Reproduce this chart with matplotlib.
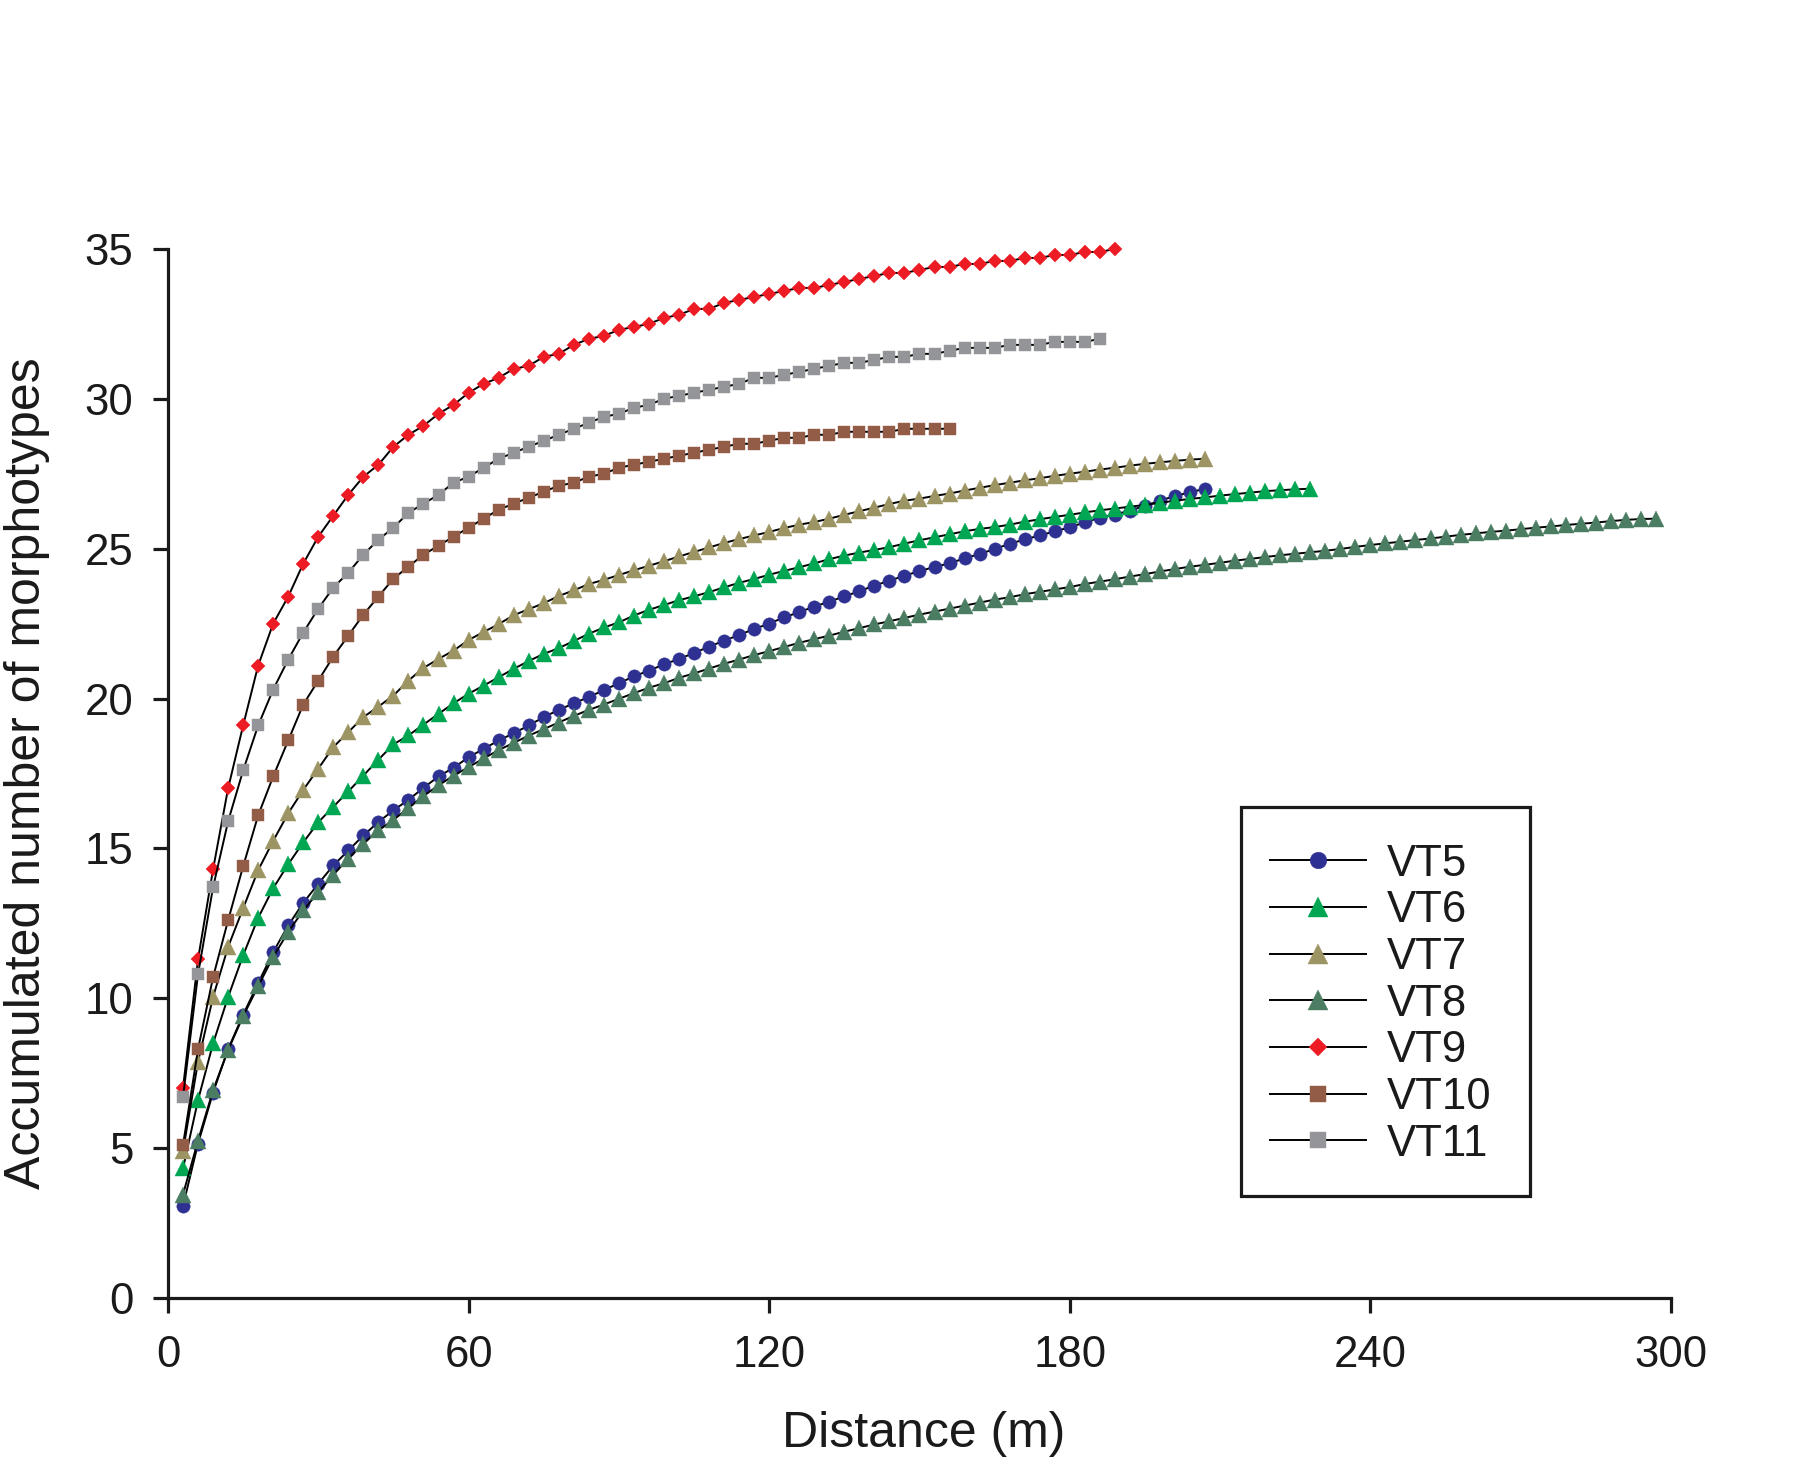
import numpy as np
import matplotlib
matplotlib.use("Agg")
import matplotlib.pyplot as plt
from matplotlib.patches import Rectangle

plt.rcParams['font.family'] = ['Liberation Sans', 'DejaVu Sans']

# ---- data (accumulated morphotypes, one value every 3 m starting at 3 m) ----
step_m = 3

VT5 = [3.07, 5.15, 6.85, 8.3, 9.45, 10.5, 11.54, 12.43, 13.18, 13.82,
       14.43, 14.93, 15.43, 15.88, 16.27, 16.62, 17.02, 17.4, 17.69, 18.04,
       18.32, 18.6, 18.84, 19.1, 19.38, 19.62, 19.84, 20.05, 20.28, 20.51,
       20.74, 20.93, 21.14, 21.32, 21.52, 21.73, 21.93, 22.12, 22.32, 22.5,
       22.71, 22.88, 23.07, 23.23, 23.41, 23.58, 23.77, 23.93, 24.1, 24.25,
       24.39, 24.51, 24.68, 24.82, 24.99, 25.16, 25.31, 25.44, 25.58, 25.71,
       25.88, 26.03, 26.14, 26.27, 26.43, 26.6, 26.76, 26.88, 27.0]

VT6 = [4.32, 6.6, 8.49, 10.04, 11.43, 12.68, 13.67, 14.47, 15.2, 15.87,
       16.39, 16.9, 17.43, 17.96, 18.47, 18.77, 19.13, 19.49, 19.84, 20.16,
       20.43, 20.71, 20.99, 21.25, 21.49, 21.68, 21.92, 22.16, 22.37, 22.54,
       22.77, 22.96, 23.12, 23.28, 23.41, 23.55, 23.71, 23.86, 23.99, 24.13,
       24.26, 24.38, 24.51, 24.65, 24.77, 24.87, 24.96, 25.05, 25.17, 25.28,
       25.38, 25.48, 25.58, 25.66, 25.72, 25.8, 25.9, 25.98, 26.06, 26.13,
       26.21, 26.28, 26.34, 26.4, 26.46, 26.53, 26.6, 26.66, 26.71, 26.77,
       26.82, 26.87, 26.92, 26.95, 26.98, 27.0]

VT7 = [4.9, 7.88, 10.04, 11.71, 13.0, 14.27, 15.25, 16.17, 16.95, 17.66,
       18.38, 18.88, 19.38, 19.73, 20.1, 20.6, 21.02, 21.32, 21.6, 21.95,
       22.22, 22.48, 22.78, 22.98, 23.18, 23.42, 23.61, 23.82, 23.96, 24.12,
       24.28, 24.43, 24.58, 24.74, 24.89, 25.04, 25.19, 25.32, 25.44, 25.56,
       25.69, 25.8, 25.89, 26.0, 26.13, 26.25, 26.37, 26.49, 26.6, 26.67,
       26.76, 26.84, 26.94, 27.03, 27.12, 27.2, 27.28, 27.35, 27.43, 27.5,
       27.57, 27.64, 27.7, 27.77, 27.83, 27.88, 27.93, 27.97, 28.0]

VT8 = [3.45, 5.25, 6.93, 8.27, 9.4, 10.4, 11.38, 12.21, 12.93, 13.54,
       14.12, 14.66, 15.16, 15.6, 15.95, 16.35, 16.75, 17.1, 17.43, 17.71,
       18.0, 18.28, 18.52, 18.76, 18.98, 19.2, 19.42, 19.62, 19.8, 19.99,
       20.18, 20.36, 20.51, 20.69, 20.84, 21.0, 21.16, 21.3, 21.45, 21.58,
       21.72, 21.86, 21.98, 22.1, 22.23, 22.35, 22.47, 22.58, 22.69, 22.8,
       22.9, 23.0, 23.1, 23.2, 23.3, 23.38, 23.48, 23.56, 23.64, 23.72,
       23.82, 23.9, 23.98, 24.07, 24.15, 24.24, 24.32, 24.4, 24.46, 24.53,
       24.6, 24.66, 24.72, 24.78, 24.83, 24.88, 24.93, 24.99, 25.06, 25.12,
       25.18, 25.23, 25.29, 25.34, 25.4, 25.46, 25.51, 25.56, 25.6, 25.65,
       25.7, 25.74, 25.79, 25.83, 25.87, 25.92, 25.96, 25.99, 26.0]

VT9 = [7.0, 11.3, 14.3, 17.0, 19.1, 21.1, 22.5, 23.4, 24.5, 25.4,
       26.1, 26.8, 27.4, 27.8, 28.4, 28.8, 29.1, 29.5, 29.8, 30.2,
       30.5, 30.7, 31.0, 31.1, 31.4, 31.5, 31.8, 32.0, 32.1, 32.3,
       32.4, 32.5, 32.7, 32.8, 33.0, 33.0, 33.2, 33.3, 33.4, 33.5,
       33.6, 33.7, 33.7, 33.8, 33.9, 34.0, 34.1, 34.2, 34.2, 34.3,
       34.4, 34.4, 34.5, 34.5, 34.6, 34.6, 34.7, 34.7, 34.8, 34.8,
       34.9, 34.9, 35.0]

VT10 = [5.1, 8.3, 10.7, 12.6, 14.4, 16.1, 17.4, 18.6, 19.8, 20.6,
        21.4, 22.1, 22.8, 23.4, 24.0, 24.4, 24.8, 25.1, 25.4, 25.7,
        26.0, 26.3, 26.5, 26.7, 26.9, 27.1, 27.2, 27.4, 27.5, 27.7,
        27.8, 27.9, 28.0, 28.1, 28.2, 28.3, 28.4, 28.5, 28.5, 28.6,
        28.7, 28.7, 28.8, 28.8, 28.9, 28.9, 28.9, 28.9, 29.0, 29.0,
        29.0, 29.0]

VT11 = [6.7, 10.8, 13.7, 15.9, 17.6, 19.1, 20.3, 21.3, 22.2, 23.0,
        23.7, 24.2, 24.8, 25.3, 25.7, 26.2, 26.5, 26.8, 27.2, 27.4,
        27.7, 28.0, 28.2, 28.4, 28.6, 28.8, 29.0, 29.2, 29.4, 29.5,
        29.7, 29.8, 30.0, 30.1, 30.2, 30.3, 30.4, 30.5, 30.7, 30.7,
        30.8, 30.9, 31.0, 31.1, 31.2, 31.2, 31.3, 31.4, 31.4, 31.5,
        31.5, 31.6, 31.7, 31.7, 31.7, 31.8, 31.8, 31.8, 31.9, 31.9,
        31.9, 32.0]

series_names = ["VT5", "VT6", "VT7", "VT8", "VT9", "VT10", "VT11"]
series_values = [VT5, VT6, VT7, VT8, VT9, VT10, VT11]

x_ticks = [0, 60, 120, 180, 240, 300]
y_ticks = [0, 5, 10, 15, 20, 25, 30, 35]

# ---- styles ----
colors = ["#2E3192", "#00A651", "#9C9462", "#4B7D63", "#ED1C24", "#925C46", "#939598"]
markers = ["o", "^", "^", "^", "D", "s", "s"]
msizes = [9.6, 11.0, 11.0, 11.0, 7.6, 9.0, 9.0]

fig = plt.figure(figsize=(18.10, 14.61), dpi=100)
ax = fig.add_axes([0.0928, 0.1116, 0.8304, 0.7180])

for name, vals, c, m, ms in zip(series_names, series_values, colors, markers, msizes):
    x = step_m * (np.arange(len(vals)) + 1)
    ax.plot(x, vals, color="black", lw=1.4, marker=m, ms=ms,
            mfc=c, mec=c, mew=0.3, label=name, clip_on=False)

ax.set_xlim(0, 300)
ax.set_ylim(0, 35)
ax.set_xticks(x_ticks)
ax.set_yticks(y_ticks)

for s in ["top", "right"]:
    ax.spines[s].set_visible(False)
for s in ["left", "bottom"]:
    ax.spines[s].set_linewidth(2.3)
    ax.spines[s].set_color("#1a1a1a")

ax.tick_params(axis="both", direction="out", length=11, width=2.3,
               color="#1a1a1a", labelsize=31.5, labelcolor="#1a1a1a")
ax.tick_params(axis="x", pad=16)
ax.tick_params(axis="y", pad=14)

ax.set_xlabel("Distance (m)", fontsize=36, color="#1a1a1a")
ax.set_ylabel("Accumulated number of morphotypes", fontsize=36, color="#1a1a1a")
ax.xaxis.set_label_coords(0.503, -0.1076)
ax.yaxis.set_label_coords(-0.0785, 0.5)

leg = ax.legend(loc="upper left", bbox_to_anchor=(0.7332, 0.4331),
                frameon=False, borderpad=0, borderaxespad=0,
                handlelength=2.2, handletextpad=0.48, labelspacing=0.13,
                fontsize=31.5, markerscale=1.25, numpoints=1)
for t in leg.get_texts():
    t.set_color("#1a1a1a")

ax.add_patch(Rectangle((0.714, 0.0972), 0.192, 0.371, transform=ax.transAxes,
                       fill=False, lw=2.3, ec="#1a1a1a", clip_on=False, zorder=5))

fig.savefig("out.png", dpi=100)
